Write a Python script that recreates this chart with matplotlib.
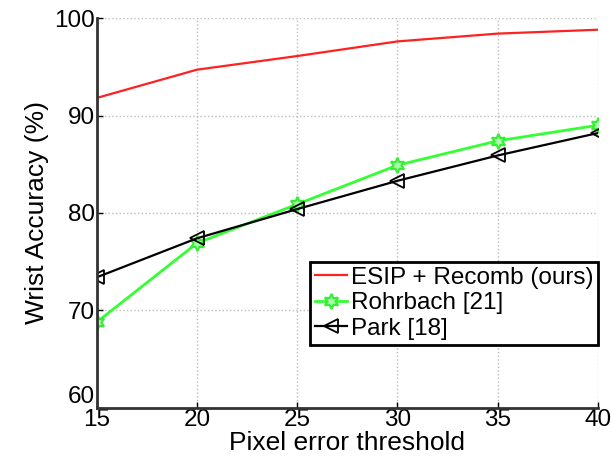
import matplotlib
matplotlib.use("Agg")
from matplotlib import pyplot as plt

### DATA
thresholds = [15, 20, 25, 30, 35, 40]
esip = [91.8, 94.7, 96.1, 97.6, 98.4, 98.8]
rohrbach = [68.8, 76.9, 80.9, 84.9, 87.4, 89.0]
park = [73.4, 77.4, 80.4, 83.3, 85.9, 88.2]

y_ticks = [60, 70, 80, 90, 100]

### PLOT
plt.rcParams["font.family"] = ["Liberation Sans", "DejaVu Sans"]

fig = plt.figure(figsize=(6.12, 4.62), dpi=100)
ax = fig.add_axes([0.158, 0.117, 0.819, 0.844])

ax.plot(thresholds, esip, color="#ff2020", linewidth=1.6, label="ESIP + Recomb (ours)")
ax.plot(thresholds, rohrbach, color="#33ff33", linewidth=2.0, marker=(6, 1, 0),
        markersize=11, markerfacecolor="#aaffaa", markeredgecolor="#33ee33",
        markeredgewidth=1.5, label="Rohrbach [21]")
ax.plot(thresholds, park, color="black", linewidth=1.6, marker="<", markersize=10,
        markerfacecolor="none", markeredgecolor="black", markeredgewidth=1.3,
        label="Park [18]")

ax.set_xlim(15, 40)
ax.set_ylim(60, 100)
ax.set_xticks(thresholds)
ax.set_yticks(y_ticks)
ax.grid(True, color="#bbbbbb", linestyle=":", linewidth=1.0)

for side in ["top", "right"]:
    ax.spines[side].set_visible(False)
for side in ["left", "bottom"]:
    ax.spines[side].set_linewidth(2.0)
    ax.spines[side].set_color("#333333")

ax.tick_params(direction="in", length=4, width=1, labelsize=17.5, pad=1)
# lift the bottom y label a little so it sits above the "15"
ax.get_yticklabels()[0].set_verticalalignment("bottom")

ax.set_xlabel("Pixel error threshold", fontsize=19, labelpad=0)
ax.set_ylabel("Wrist Accuracy (%)", fontsize=19, labelpad=4)

leg = ax.legend(loc="upper right", bbox_to_anchor=(1.0, 0.375), borderaxespad=0,
                fontsize=17.5, fancybox=False, framealpha=1, handlelength=1.3,
                handletextpad=0.15, borderpad=0.2, labelspacing=0.15)
leg.get_frame().set_edgecolor("black")
leg.get_frame().set_linewidth(2.0)

fig.savefig("out.png", dpi=100)
